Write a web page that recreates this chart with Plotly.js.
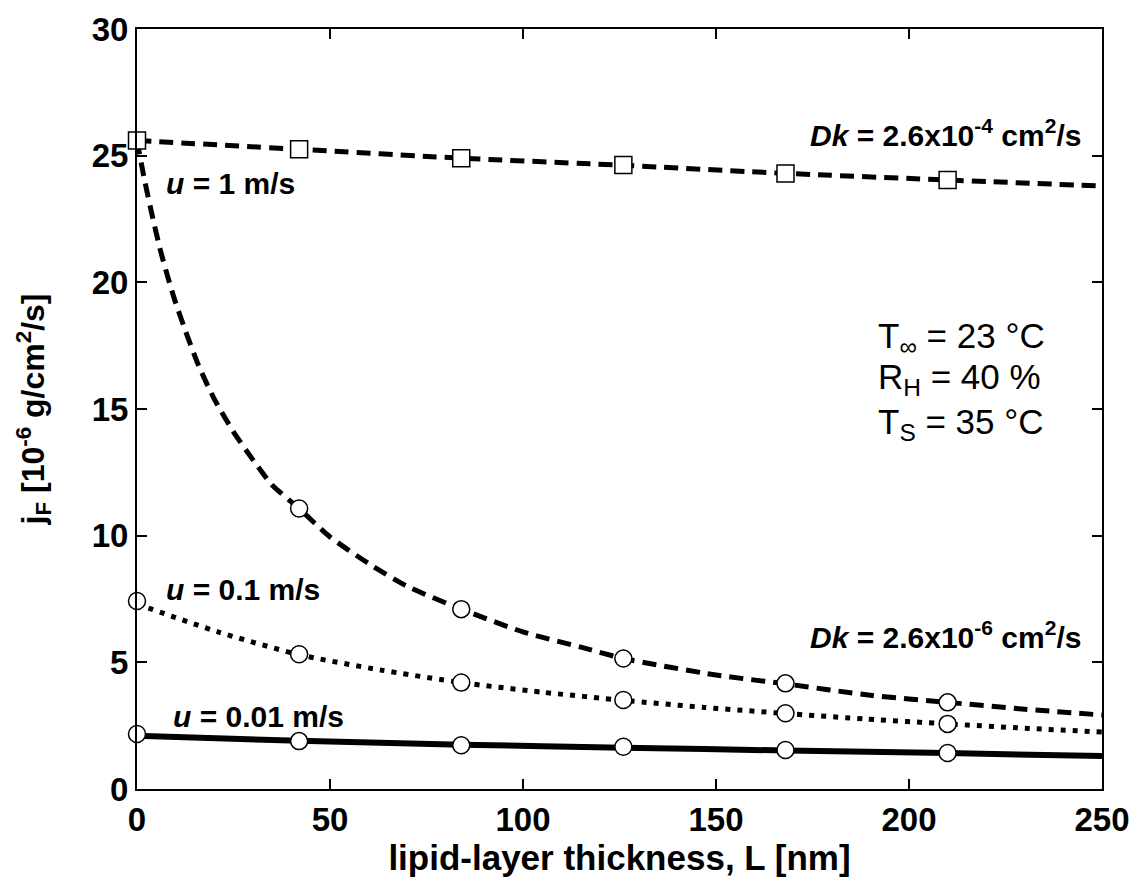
<!DOCTYPE html>
<html>
<head>
<meta charset="utf-8">
<script src="https://cdn.plot.ly/plotly-3.0.1.min.js"></script>
<style>html,body{margin:0;padding:0;background:#fff;}</style>
</head>
<body>
<div id="chart" style="width:1136px;height:877px;"></div>
<script>
// ---- data ----
const markerL = [0, 42, 84, 126, 168, 210];

// Dk = 2.6e-4 cm2/s, u = 1 m/s (squares, dashed)
const lineL_dk4 = [0, 42, 84, 126, 168, 210, 250];
const lineJ_dk4 = [25.6, 25.25, 24.9, 24.62, 24.3, 24.04, 23.8];
const markJ_dk4 = [25.6, 25.25, 24.9, 24.63, 24.3, 24.04];

// Dk = 2.6e-6 cm2/s, u = 1 m/s (circles, dashed)
const lineL_u1 = [0, 2, 4, 6, 8, 10, 13, 16, 20, 25, 30, 35, 42, 50, 60, 70, 84, 100, 115, 126, 150, 168, 190, 210, 230, 250];
const lineJ_u1 = [25.6, 24.0, 22.6, 21.3, 20.2, 19.2, 17.9, 16.7, 15.4, 14.1, 13.0, 12.0, 11.07, 9.95, 8.9, 8.0, 7.1, 6.2, 5.6, 5.15, 4.5, 4.15, 3.7, 3.42, 3.15, 2.92];
const markL_u1 = [42, 84, 126, 168, 210];
const markJ_u1 = [11.07, 7.1, 5.15, 4.17, 3.42];

// u = 0.1 m/s (circles, dotted)
const lineL_u01 = [0, 21, 42, 63, 84, 105, 126, 147, 168, 189, 210, 230, 250];
const lineJ_u01 = [7.3, 6.2, 5.3, 4.7, 4.2, 3.82, 3.5, 3.22, 2.98, 2.76, 2.57, 2.4, 2.25];
const markJ_u01 = [7.42, 5.32, 4.2, 3.51, 2.99, 2.57];

// u = 0.01 m/s (circles, solid)
const lineL_u001 = [0, 42, 84, 126, 168, 210, 250];
const lineJ_u001 = [2.1, 1.9, 1.75, 1.63, 1.52, 1.42, 1.3];
const markJ_u001 = [2.17, 1.89, 1.73, 1.67, 1.54, 1.42];

const xTicks = [0, 50, 100, 150, 200, 250];
const yTicks = [0, 5, 10, 15, 20, 25, 30];

// ---- traces ----
const FONT = '"Liberation Sans", Arial, sans-serif';
function lineTrace(x, y, dash, w) {
  return {x: x, y: y, type: 'scatter', mode: 'lines', showlegend: false, hoverinfo: 'skip',
          line: {color: '#000', width: w, dash: dash, shape: 'spline', smoothing: 0.6}};
}
function markTrace(x, y, sym) {
  return {x: x, y: y, type: 'scatter', mode: 'markers', showlegend: false, cliponaxis: false,
          marker: {symbol: sym, size: 17, color: '#fff',
                   line: {color: '#000', width: 1.5}}};
}
const traces = [
  lineTrace(lineL_u001, lineJ_u001, 'solid', 6),
  lineTrace(lineL_u01, lineJ_u01, '5px,7px', 5),
  lineTrace(lineL_u1, lineJ_u1, '14px,8px', 5),
  lineTrace(lineL_dk4, lineJ_dk4, '14px,8px', 5),
  markTrace(markerL, markJ_u001, 'circle'),
  markTrace(markerL, markJ_u01, 'circle'),
  markTrace(markL_u1, markJ_u1, 'circle'),
  markTrace(markerL, markJ_dk4, 'square')
];

function ann(x, y, text, xanchor, size) {
  return {x: x, y: y, xref: 'x', yref: 'y', text: text, showarrow: false,
          xanchor: xanchor, yanchor: 'middle',
          font: {family: FONT, size: size, color: '#000'}};
}
const annotations = [
  ann(245, 25.9, '<b><i>Dk</i> = 2.6x10<sup>-4</sup> cm<sup>2</sup>/s</b>', 'right', 30),
  ann(245, 6.08, '<b><i>Dk</i> = 2.6x10<sup>-6</sup> cm<sup>2</sup>/s</b>', 'right', 30),
  ann(7.0, 23.9, '<b><i>u</i> = 1 m/s</b>', 'left', 30),
  ann(7.0, 7.86, '<b><i>u</i> = 0.1 m/s</b>', 'left', 30),
  ann(8.8, 2.88, '<b><i>u</i> = 0.01 m/s</b>', 'left', 30),
  ann(191.5, 17.8, 'T<sub>∞</sub> = 23 °C', 'left', 35),
  ann(191.5, 16.2, 'R<sub>H</sub> = 40 %', 'left', 35),
  ann(191.5, 14.4, 'T<sub>S</sub> = 35 °C', 'left', 35)
];

const layout = {
  width: 1136, height: 877,
  margin: {l: 137, r: 34, t: 29, b: 88, pad: 0},
  paper_bgcolor: '#fff', plot_bgcolor: '#fff',
  font: {family: FONT, color: '#000'},
  xaxis: {
    range: [0, 250], tickvals: xTicks, ticktext: xTicks.map(String),
    showgrid: false, zeroline: false, showline: true, linecolor: '#000', linewidth: 2,
    mirror: 'ticks', ticks: 'inside', ticklen: 10, tickwidth: 2, tickcolor: '#000',
    tickfont: {family: FONT, size: 33, color: '#000', weight: 'bold'},
    title: {text: '<b>lipid-layer thickness, L [nm]</b>', font: {family: FONT, size: 35, color: '#000'}, standoff: 0}
  },
  yaxis: {
    range: [0, 30], tickvals: yTicks, ticktext: yTicks.map(String),
    showgrid: false, zeroline: false, showline: true, linecolor: '#000', linewidth: 2,
    mirror: 'ticks', ticks: 'inside', ticklen: 10, tickwidth: 2, tickcolor: '#000',
    tickfont: {family: FONT, size: 33, color: '#000', weight: 'bold'},
    title: {text: '<b>j<sub>F</sub> [10<sup>-6</sup> g/cm<sup>2</sup>/s]</b>', font: {family: FONT, size: 32, color: '#000'}, standoff: 37}
  },
  annotations: annotations
};

Plotly.newPlot('chart', traces, layout, {displayModeBar: false, staticPlot: true});
</script>
</body>
</html>
